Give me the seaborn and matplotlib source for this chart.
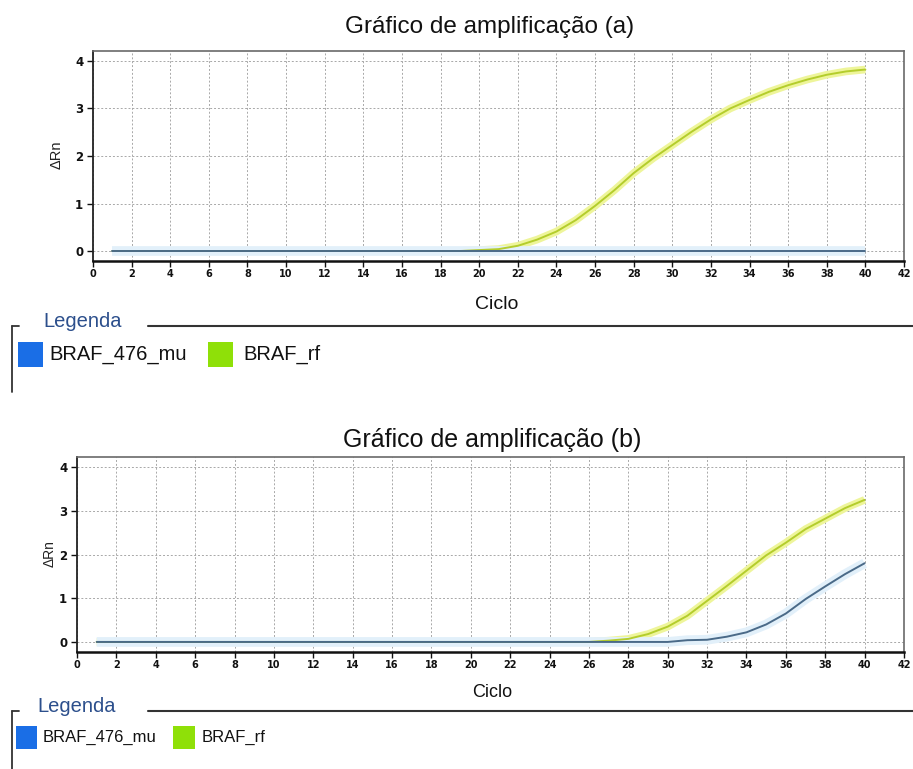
import numpy as np
import pandas as pd
import matplotlib
matplotlib.use("Agg")
import matplotlib.pyplot as plt
import seaborn as sns
from matplotlib.patches import Rectangle
from matplotlib.lines import Line2D

# ---------------- data ----------------
cycles = list(range(1, 41))
targets = ["BRAF_476_mu", "BRAF_rf"]

a_mu = [0.0] * 40
a_rf = [0.0] * 19 + [0.02, 0.04, 0.11, 0.24, 0.41, 0.65, 0.95, 1.28, 1.64, 1.95,
                     2.23, 2.51, 2.77, 3.00, 3.18, 3.35, 3.49, 3.61, 3.71, 3.78, 3.82]

b_mu = [0.0] * 30 + [0.04, 0.05, 0.12, 0.22, 0.40, 0.65, 0.98, 1.27, 1.55, 1.80]
b_rf = [0.0] * 26 + [0.03, 0.07, 0.18, 0.35, 0.60, 0.94, 1.28, 1.63, 1.98, 2.27,
                     2.58, 2.82, 3.06, 3.25]

x_ticks = list(range(0, 43, 2))
y_ticks = [0, 1, 2, 3, 4]
titles = ["Gráfico de amplificação (a)", "Gráfico de amplificação (b)"]
xlabel = "Ciclo"
ylabel = "ΔRn"
legend_title = "Legenda"

core_pal = {"BRAF_476_mu": "#4a6a88", "BRAF_rf": "#b4cd2c"}
halo_pal = {"BRAF_476_mu": "#e2f0fa", "BRAF_rf": "#eef59a"}
swatch = {"BRAF_476_mu": "#1a6ee6", "BRAF_rf": "#8fe008"}

def make_df(mu, rf):
    return pd.DataFrame({
        "Ciclo": cycles * 2,
        "dRn": mu + rf,
        "alvo": [targets[0]] * 40 + [targets[1]] * 40,
    })

dfa = make_df(a_mu, a_rf)
dfb = make_df(b_mu, b_rf)

# ---------------- figure ----------------
sns.set_theme(style="white")
plt.rcParams["font.family"] = ["Liberation Sans", "DejaVu Sans"]

W, H = 913, 769
fig = plt.figure(figsize=(W / 100, H / 100), dpi=100)
fig.patch.set_facecolor("white")

ov = fig.add_axes([0, 0, 1, 1])
ov.set_xlim(0, W)
ov.set_ylim(H, 0)
ov.axis("off")

def px_axes(l, r, t, b):
    return fig.add_axes([l / W, 1 - b / H, (r - l) / W, (b - t) / H])

ax_a = px_axes(93, 904, 51, 261)
ax_b = px_axes(77, 904, 457, 652)

def style_axes(ax, df, ylim):
    for t, lw_h in [("BRAF_rf", 5.5), ("BRAF_476_mu", 7)]:
        sub = df[df["alvo"] == t]
        sns.lineplot(data=sub, x="Ciclo", y="dRn", color=halo_pal[t], lw=lw_h,
                     ax=ax, legend=False, solid_capstyle="butt")
    for t in ["BRAF_rf", "BRAF_476_mu"]:
        sub = df[df["alvo"] == t]
        sns.lineplot(data=sub, x="Ciclo", y="dRn", color=core_pal[t], lw=1.4,
                     ax=ax, legend=False)
    ax.set_xlim(0, 42)
    ax.set_ylim(*ylim)
    ax.set_xticks(x_ticks)
    ax.set_yticks(y_ticks)
    ax.set_xticklabels([str(v) for v in x_ticks], fontfamily="DejaVu Sans",
                       fontweight="bold", fontsize=7)
    ax.set_yticklabels([str(v) for v in y_ticks], fontfamily="DejaVu Sans",
                       fontweight="bold", fontsize=8.5)
    ax.set_xlabel("")
    ax.set_ylabel("")
    ax.grid(True, linestyle=(0, (2, 2)), color="#a8a8a8", lw=0.7)
    ax.set_axisbelow(True)
    ax.tick_params(axis="x", bottom=True, length=4, width=1, pad=2, colors="#111111")
    ax.tick_params(axis="y", left=True, length=4, width=1, pad=3, colors="#111111")
    for s in ["top", "right"]:
        ax.spines[s].set_color("#6a6a6a")
        ax.spines[s].set_linewidth(1.2)
    ax.spines["left"].set_color("#222222")
    ax.spines["left"].set_linewidth(1.3)
    ax.spines["bottom"].set_color("#111111")
    ax.spines["bottom"].set_linewidth(1.8)

style_axes(ax_a, dfa, (-0.21, 4.21))
style_axes(ax_b, dfb, (-0.23, 4.23))

# titles and axis labels (figure pixel positions)
ov.text(490, 33, titles[0], fontsize=17.5, ha="center", va="baseline", color="#111111")
ov.text(492, 447, titles[1], fontsize=18, ha="center", va="baseline", color="#111111")
ov.text(497, 309, xlabel, fontsize=14, ha="center", va="baseline", color="#111111")
ov.text(492, 697, xlabel, fontsize=13, ha="center", va="baseline", color="#111111")
ov.text(57, 155, ylabel, fontsize=10.5, rotation=90, ha="center", va="center", color="#222222")
ov.text(50, 554, ylabel, fontsize=10, rotation=90, ha="center", va="center", color="#222222")

# legends
def legend_block(y_line, y_bottom, x_title, fs_title, entries, fs_text):
    ov.add_line(Line2D([148, W], [y_line, y_line], color="#333333", lw=1.5))
    ov.add_line(Line2D([12, 12], [y_line, y_bottom], color="#333333", lw=1.3))
    ov.add_line(Line2D([12, 19], [y_line, y_line], color="#333333", lw=1.3))
    ov.text(x_title, y_line + 1, legend_title, fontsize=fs_title, color="#2c4f8c",
            ha="left", va="baseline")
    for (name, x0, x1, y0, y1, xt) in entries:
        ov.add_patch(Rectangle((x0, y0), x1 - x0, y1 - y0, color=swatch[name], lw=0))
        ov.text(xt, (y0 + y1) / 2, name, fontsize=fs_text, ha="left", va="center",
                color="#111111")

legend_block(326, 392, 43, 14.5,
             [("BRAF_476_mu", 18, 43, 342, 367, 49),
              ("BRAF_rf", 208, 233, 342, 367, 243)], 14.5)
legend_block(711, 769, 37, 14.5,
             [("BRAF_476_mu", 16, 37, 726, 749, 43),
              ("BRAF_rf", 173, 195, 726, 749, 202)], 12)

fig.savefig("out.png", dpi=100, facecolor="white")
